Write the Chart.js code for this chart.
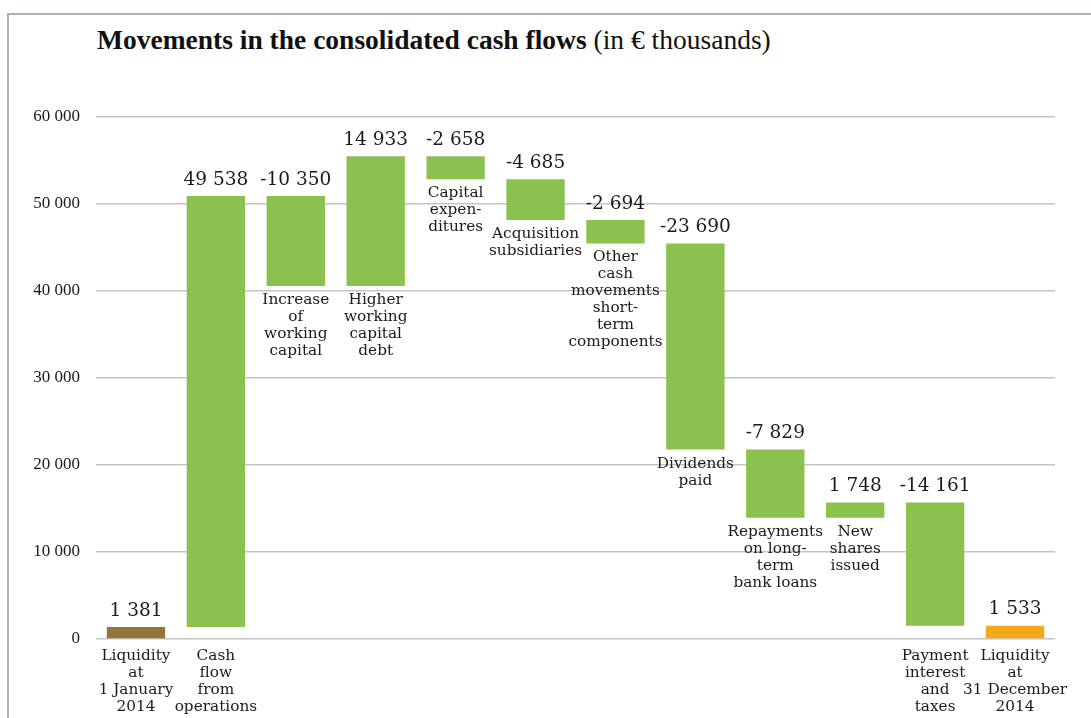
<!DOCTYPE html>
<html><head><meta charset="utf-8">
<script src="https://cdn.jsdelivr.net/npm/chart.js@4.4.1/dist/chart.umd.min.js"></script>
<style>
html,body{margin:0;padding:0;background:#fff;}
#wrap{position:relative;width:1091px;height:718px;overflow:hidden;}
#frame{position:absolute;left:7px;top:13px;right:-10px;bottom:-10px;border-left:2px solid #b3b0aa;border-top:2px solid #b3b0aa;}
#title{position:absolute;left:97px;top:24px;font-family:"Liberation Serif",serif;font-size:27.5px;color:#111;white-space:nowrap;}
#c{position:absolute;left:0;top:0;}
</style></head><body>
<div id="wrap"><div id="frame"></div>
<div id="title"><b>Movements in the consolidated cash flows</b> (in € thousands)</div>
<canvas id="c" width="1091" height="718"></canvas></div>
<script>
const categories = [
  ["Liquidity","at","1 January","2014"],
  ["Cash","flow","from","operations"],
  ["Increase","of","working","capital"],
  ["Higher","working","capital","debt"],
  ["Capital","expen-","ditures"],
  ["Acquisition","subsidiaries"],
  ["Other","cash","movements","short-","term","components"],
  ["Dividends","paid"],
  ["Repayments","on long-","term","bank loans"],
  ["New","shares","issued"],
  ["Payment","interest","and","taxes"],
  ["Liquidity","at","31 December","2014"]
];
const values = [1381, 49538, -10350, 14933, -2658, -4685, -2694, -23690, -7829, 1748, -14161, 1533];
const isTotal = [true, false, false, false, false, false, false, false, false, false, false, true];
const yTicks = [0, 10000, 20000, 30000, 40000, 50000, 60000];

const barColors = values.map((v, i) => i === 0 ? "#957537" : (i === values.length - 1 ? "#f5a81c" : "#8bc14f"));

// floating ranges built from values
let running = 0;
const ranges = values.map((v, i) => {
  if (isTotal[i]) { running = v; return [0, v]; }
  const r = [running, running + v]; running += v; return r;
});

function fmt(n) {
  const s = Math.abs(Math.round(n)).toString().replace(/\B(?=(\d{3})+(?!\d))/g, " ");
  return (n < 0 ? "-" : "") + s;
}

const labelPlugin = {
  id: "wfLabels",
  afterDatasetsDraw(chart) {
    const ctx = chart.ctx;
    const meta = chart.getDatasetMeta(0);
    const zero = chart.scales.y.getPixelForValue(0);
    ctx.save();
    ctx.fillStyle = "#1a1a1a";
    ctx.textAlign = "center";
    ctx.textBaseline = "middle";
    meta.data.forEach((bar, i) => {
      const top = Math.min(bar.y, bar.base);
      const bottom = Math.max(bar.y, bar.base);
      ctx.font = '18.5px "DejaVu Serif"';
      ctx.fillText(fmt(values[i]), bar.x, top - 16);
      ctx.font = '15.3px "DejaVu Serif"';
      const anchor = (zero - bottom < 20) ? zero + 3 : bottom;
      categories[i].forEach((line, k) => {
        ctx.fillText(line, bar.x, anchor + 14 + k * 17);
      });
    });
    ctx.restore();
  }
};

new Chart(document.getElementById("c"), {
  type: "bar",
  data: {
    labels: categories.map(c => c.join(" ")),
    datasets: [{
      data: ranges,
      backgroundColor: barColors,
      borderWidth: 0,
      barPercentage: 0.73,
      categoryPercentage: 1.0
    }]
  },
  options: {
    responsive: false,
    animation: false,
    devicePixelRatio: 1,
    layout: { padding: { top: 117, bottom: 79, right: 36, left: 0 } },
    plugins: { legend: { display: false }, tooltip: { enabled: false }, title: { display: false } },
    scales: {
      x: { display: false },
      y: {
        min: 0, max: 60000,
        afterBuildTicks(scale) { scale.ticks = yTicks.map(v => ({ value: v })); },
        afterFit(scale) { scale.width = 96; },
        border: { display: false },
        grid: { color: "#c4c4c4", lineWidth: 1.5, drawTicks: false },
        ticks: {
          padding: 16,
          color: "#1a1a1a",
          font: { family: "Liberation Serif", size: 17 },
          callback: v => fmt(v)
        }
      }
    }
  },
  plugins: [labelPlugin]
});
</script>
</body></html>
